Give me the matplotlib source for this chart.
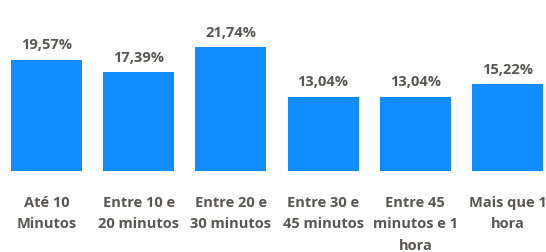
import matplotlib
matplotlib.use("Agg")
import matplotlib.pyplot as plt

categories = ["Até 10\nMinutos", "Entre 10 e\n20 minutos", "Entre 20 e\n30 minutos",
              "Entre 30 e\n45 minutos", "Entre 45\nminutos e 1\nhora", "Mais que 1\nhora"]
values = [19.57, 17.39, 21.74, 13.04, 13.04, 15.22]
value_labels = ["19,57%", "17,39%", "21,74%", "13,04%", "13,04%", "15,22%"]

plt.rcParams['font.family'] = ['Open Sans', 'DejaVu Sans']
text_color = '#5A5652'
bar_color = '#118DFF'

fig = plt.figure(figsize=(5.46, 2.53), dpi=100)
ax = fig.add_axes([0, 81/253, 1, 172/253])
x = list(range(len(values)))
bars = ax.bar(x, values, width=0.77, color=bar_color)
ax.set_xlim(-0.504, 5.417)
ax.set_ylim(0, 30.2)
for b, lab in zip(bars, value_labels):
    ax.annotate(lab, (b.get_x() + b.get_width()/2, b.get_height()),
                xytext=(0, 6), textcoords='offset points', ha='center', va='bottom',
                fontsize=10.5, fontweight='bold', color=text_color)
ax.set_xticks(x)
ax.set_xticklabels(categories, fontsize=10.5, fontweight='bold', color=text_color,
                   linespacing=1.7, va='top')
ax.tick_params(axis='x', length=0, pad=17)
ax.set_yticks([])
for s in ax.spines.values():
    s.set_visible(False)
fig.savefig("out.png", dpi=100)
